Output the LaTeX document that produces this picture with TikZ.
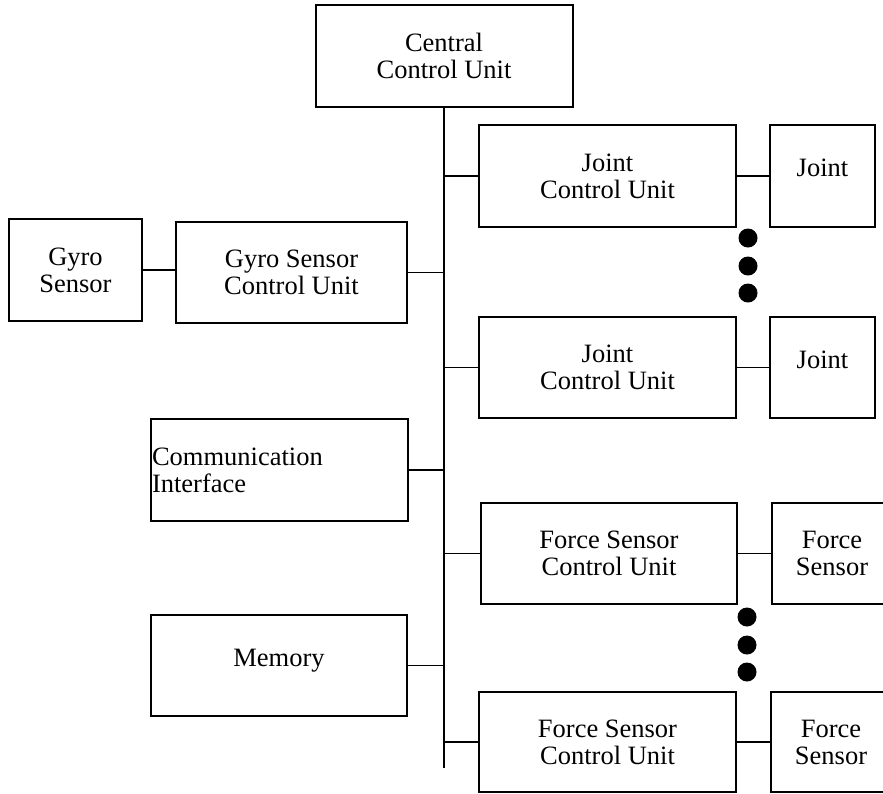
\documentclass[tikz,border=0pt]{standalone}
\usepackage{fontspec}
\setmainfont{Liberation Serif}
\begin{document}
\begin{tikzpicture}[x=1pt,y=-1pt,
  unit/.style={draw, line width=2pt, inner sep=0pt, align=center,
    minimum width=#1, minimum height=102pt,
    font=\fontsize{26.5}{27}\selectfont},
  unit/.default=257pt,
  link/.style={line width=1.8pt},
  busline/.style={line width=2.2pt},
  dot/.style={circle, fill=black, inner sep=0pt, minimum size=19pt}]
\useasboundingbox (0,0) rectangle (883,793);
\newcommand{\lowstrut}{\rule[-16pt]{0pt}{16pt}}

% central unit and the bus below it
\node[unit] (ccu) at (444,56) {Central\\Control Unit};
\coordinate (busend) at (444,768);
\draw[busline] (ccu.south) -- (busend);

% joints
\node[unit] (jcu1) at (607.5,176) {Joint\\Control Unit};
\node[unit=105pt] (joint1) at (822.5,176) {Joint\lowstrut};
\node[unit, minimum height=101pt] (jcu2) at (607.5,367.5) {Joint\\Control Unit};
\node[unit=105pt, minimum height=101pt] (joint2) at (822.5,367.5) {Joint\lowstrut};

% gyro
\node[unit=133pt] (gyro) at (75.5,270) {Gyro\\Sensor};
\node[unit=231pt, minimum height=101pt] (gscu) at (291.5,272.5) {Gyro Sensor\\Control Unit};

% communication and memory
\node[unit, text width=254pt, inner xsep=1pt, align=left] (comm) at (279,470) {Communication\\Interface};
\node[unit=256pt, minimum height=101pt] (mem) at (279,665.5) {Memory\lowstrut};

% force sensors
\node[unit=256pt, minimum height=101pt] (fscu1) at (609,553.5) {Force Sensor\\Control Unit};
\node[unit=120pt, minimum height=101pt] (fs1) at (832,553.5) {Force\\Sensor};
\node[unit, minimum height=100pt] (fscu2) at (607.5,742) {Force Sensor\\Control Unit};
\node[unit=120pt, minimum height=100pt] (fs2) at (831,742) {Force\\Sensor};

% links to the bus
\draw[link] (jcu1.west) -- (jcu1.west -| busend);
\draw[link] (jcu2.west) -- (jcu2.west -| busend);
\draw[link] (gscu.east) -- (gscu.east -| busend);
\draw[link] (comm.east) -- (comm.east -| busend);
\draw[link] (fscu1.west) -- (fscu1.west -| busend);
\draw[link] (mem.east) -- (mem.east -| busend);
\draw[link] (fscu2.west) -- (fscu2.west -| busend);

% links between units
\draw[link] (jcu1.east) -- (joint1.west);
\draw[link] (jcu2.east) -- (joint2.west);
\draw[link] (gyro.east) -- (gyro.east -| gscu.west);
\draw[link] (fscu1.east) -- (fs1.west);
\draw[link] (fscu2.east) -- (fs2.west);

% ellipsis dots
\node[dot] (jd1) at (748,238) {};
\node[dot] (jd2) at (748,266) {};
\node[dot] (jd3) at (748,293) {};
\node[dot] (fd1) at (747,617) {};
\node[dot] (fd2) at (747,645) {};
\node[dot] (fd3) at (747,672) {};
\end{tikzpicture}
\end{document}
